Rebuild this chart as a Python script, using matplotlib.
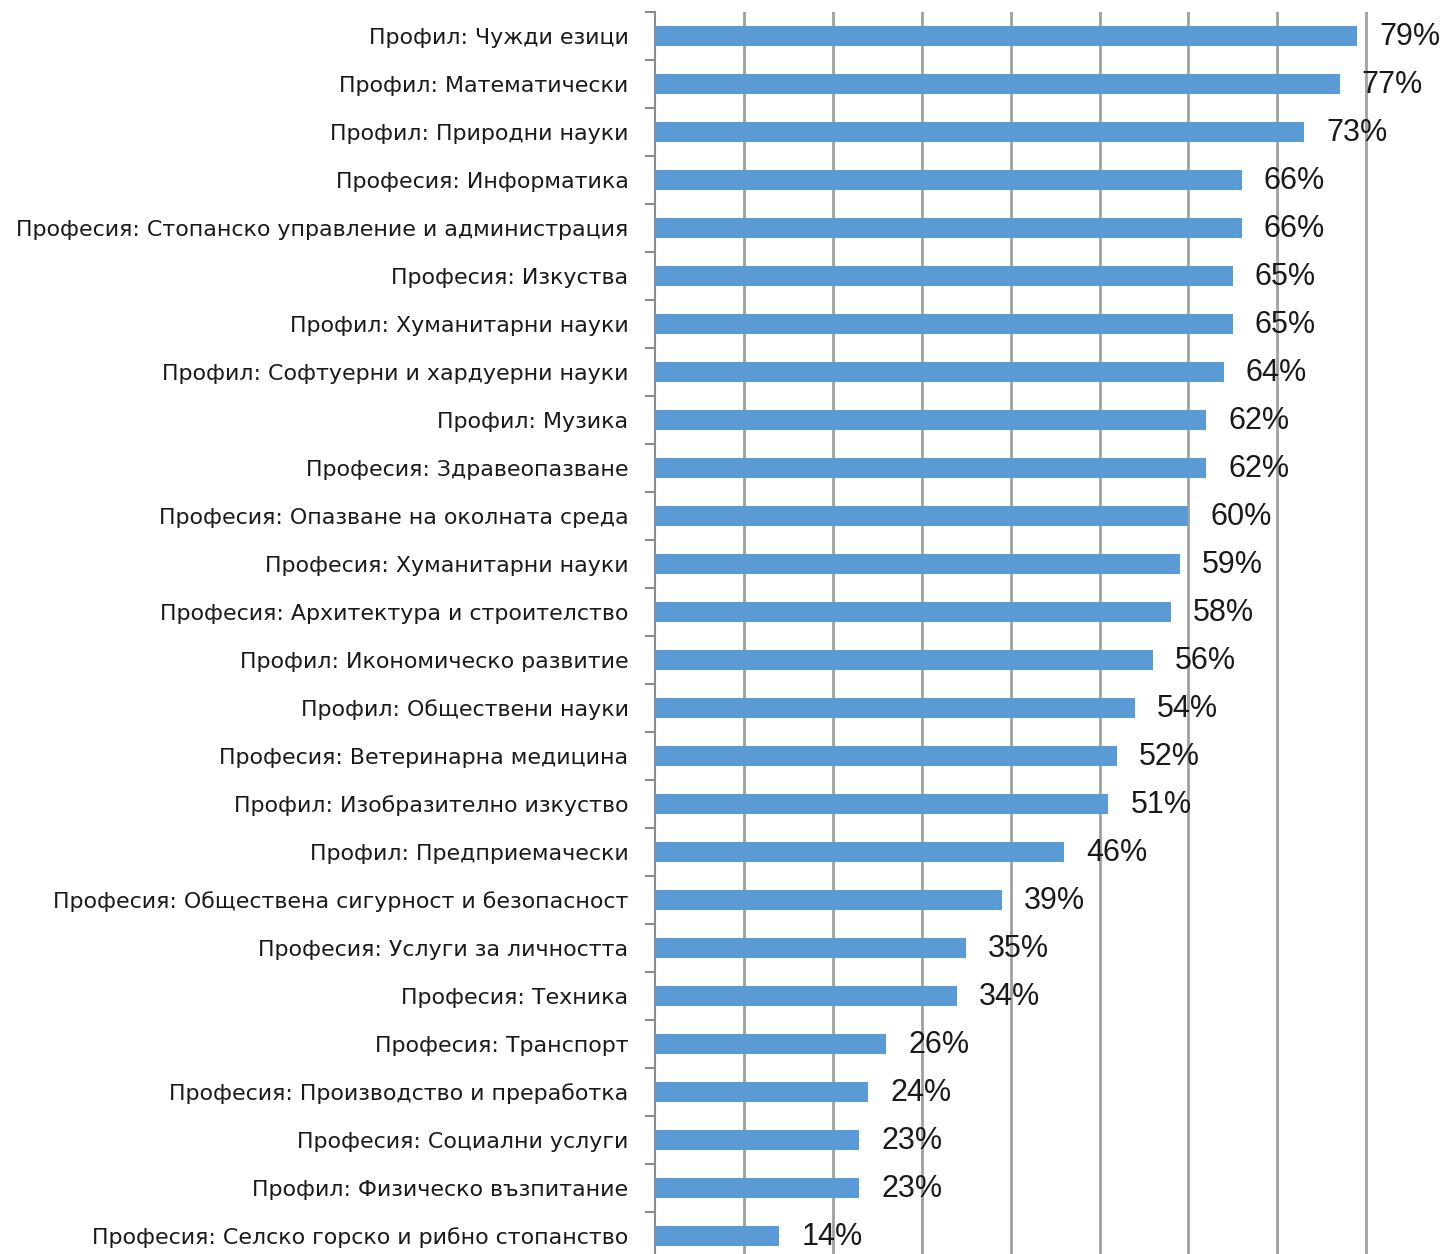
import matplotlib
matplotlib.use("Agg")
import matplotlib.pyplot as plt
import numpy as np

categories = [
    "Профил: Чужди езици",
    "Профил: Математически",
    "Профил: Природни науки",
    "Професия: Информатика",
    "Професия: Стопанско управление и администрация",
    "Професия: Изкуства",
    "Профил: Хуманитарни науки",
    "Профил: Софтуерни и хардуерни науки",
    "Профил: Музика",
    "Професия: Здравеопазване",
    "Професия: Опазване на околната среда",
    "Професия: Хуманитарни науки",
    "Професия: Архитектура и строителство",
    "Профил: Икономическо развитие",
    "Профил: Обществени науки",
    "Професия: Ветеринарна медицина",
    "Профил: Изобразително изкуство",
    "Профил: Предприемачески",
    "Професия: Обществена сигурност и безопасност",
    "Професия: Услуги за личността",
    "Професия: Техника",
    "Професия: Транспорт",
    "Професия: Производство и преработка",
    "Професия: Социални услуги",
    "Профил: Физическо възпитание",
    "Професия: Селско горско и рибно стопанство",
]
values = [79, 77, 73, 66, 66, 65, 65, 64, 62, 62, 60, 59, 58, 56, 54, 52, 51,
          46, 39, 35, 34, 26, 24, 23, 23, 14]
value_labels = [f"{v}%" for v in values]

W, H = 1445, 1254
fig = plt.figure(figsize=(W / 100, H / 100), dpi=100)
left_px, top_px, row_px, px_per_pct = 655, 12, 48, 8.89
n = len(categories)
bottom_px = top_px + row_px * n
xmax = (W - left_px) / px_per_pct
ax = fig.add_axes([left_px / W, 1 - bottom_px / H, 1 - left_px / W, row_px * n / H])

y = np.arange(n)
ax.barh(y, values, height=0.42, color="#5B9BD5", zorder=3)
ax.set_ylim(n - 0.5, -0.5)
ax.set_xlim(0, xmax)

for yi, v, lab in zip(y, values, value_labels):
    ax.text(v + 22 / px_per_pct, yi + 0.03, lab, va="center", ha="left",
            fontsize=22, family="Liberation Sans", color="#1a1a1a", zorder=5,
            clip_on=False)

ax.set_xticks(np.arange(10, 81, 10))
ax.xaxis.grid(True, color="#a0a0a0", linewidth=2, zorder=1)
ax.set_axisbelow(True)
ax.tick_params(axis="x", length=0, labelbottom=False)

ax.set_yticks(y)
ax.set_yticklabels(categories, fontsize=15.9, family="DejaVu Sans", color="#1a1a1a")
ax.set_yticks(np.arange(-0.5, n, 1), minor=True)
ax.tick_params(axis="y", which="major", length=0, pad=19)
ax.tick_params(axis="y", which="minor", length=7, width=1.5, color="#8c8c8c")

for s in ["top", "right", "bottom"]:
    ax.spines[s].set_visible(False)
ax.spines["left"].set_color("#8c8c8c")
ax.spines["left"].set_linewidth(1.5)

fig.savefig("out.png", dpi=100)
